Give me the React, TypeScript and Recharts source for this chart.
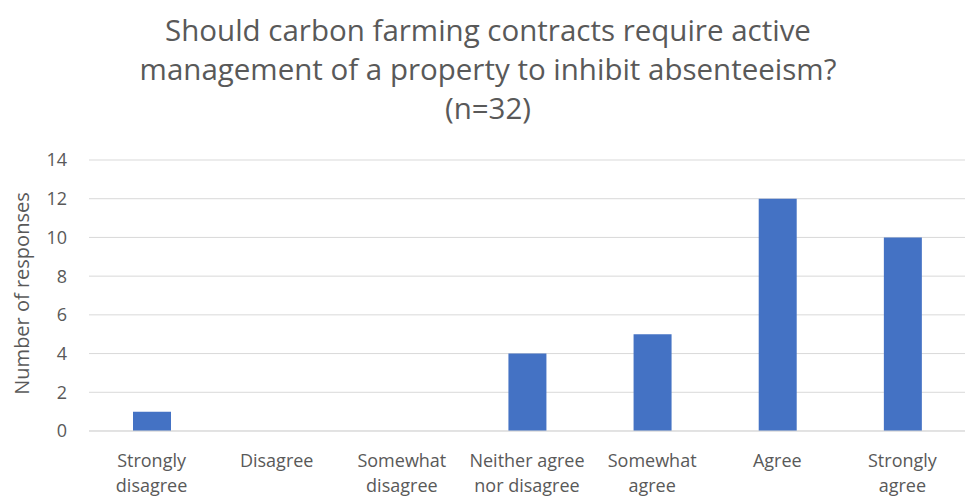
import { BarChart, Bar, XAxis, YAxis, CartesianGrid } from 'recharts';

const categories = [
  'Strongly\ndisagree',
  'Disagree',
  'Somewhat\ndisagree',
  'Neither agree\nnor disagree',
  'Somewhat\nagree',
  'Agree',
  'Strongly\nagree',
];
const responses = [1, 0, 0, 4, 5, 12, 10];
const yTicks = [0, 2, 4, 6, 8, 10, 12, 14];

const data = categories.map((name, i) => ({ name, value: responses[i] }));

const FONT = '"Open Sans", "Noto Sans", sans-serif';
const TEXT = '#595959';

function CategoryTick({ x, y, payload }: any) {
  const lines = String(payload.value).split('\n');
  return (
    <text x={x} y={y} textAnchor="middle" fill={TEXT} fontFamily={FONT} fontSize={18}>
      {lines.map((line, i) => (
        <tspan key={i} x={x} dy={i === 0 ? 28 : 25}>
          {line}
        </tspan>
      ))}
    </text>
  );
}

export default function App() {
  return (
    <div style={{ position: 'absolute', left: 0, top: 0, width: 966, height: 497, background: '#fff' }}>
      <div
        style={{
          position: 'absolute',
          left: 0,
          top: 10,
          width: 976,
          textAlign: 'center',
          fontFamily: FONT,
          fontSize: 29.5,
          lineHeight: '39px',
          color: TEXT,
        }}
      >
        Should carbon farming contracts require active
        <br />
        management of a property to inhibit absenteeism?
        <br />
        (n=32)
      </div>
      <BarChart
        width={966}
        height={497}
        data={data}
        margin={{ top: 160, right: 1, bottom: 0, left: 0 }}
      >
        <CartesianGrid vertical={false} stroke="#d9d9d9" />
        <XAxis
          dataKey="name"
          height={66}
          axisLine={{ stroke: '#d9d9d9' }}
          tickLine={false}
          interval={0}
          tick={<CategoryTick />}
        />
        <YAxis
          width={89}
          domain={[0, 14]}
          ticks={yTicks}
          axisLine={false}
          tickLine={false}
          tickMargin={16}
          tick={{ fill: TEXT, fontFamily: FONT, fontSize: 18 }}
          label={{
            value: 'Number of responses',
            angle: -90,
            position: 'insideLeft',
            offset: 22,
            dy: -2,
            style: { fill: TEXT, fontFamily: FONT, fontSize: 20, textAnchor: 'middle' },
          }}
        />
        <Bar dataKey="value" fill="#4472c4" barSize={38} isAnimationActive={false} />
      </BarChart>
    </div>
  );
}
